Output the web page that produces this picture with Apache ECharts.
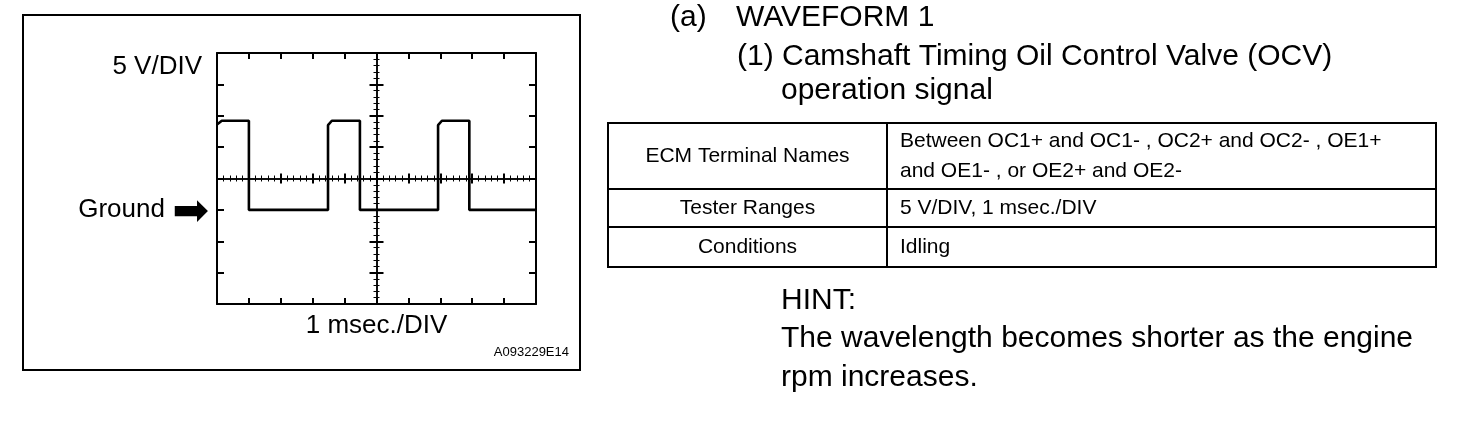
<!DOCTYPE html>
<html>
<head>
<meta http-equiv="Content-Type" content="text/html; charset=utf-8" />
<title>waveform-1</title>
<script type="text/javascript" src="https://cdn.jsdelivr.net/npm/echarts@6/dist/echarts.min.js"></script>
<style>
  html, body { margin: 0; padding: 0; background: #fff; }
  #main { width: 1472px; height: 442px; }
</style>
</head>
<body>
<div id="main"></div>
<script type="text/javascript">
// waveform: time in msec, voltage in V (ground = 0)
var timeMs = [0, 0.15, 1.0, 1.0, 3.48, 3.48, 3.6, 4.48, 4.48, 6.93, 6.93, 7.05, 7.91, 7.91, 10];
var volts  = [13.6, 14.2, 14.2, 0, 0, 13.5, 14.2, 14.2, 0, 0, 13.5, 14.2, 14.2, 0, 0];

var headingLines = ['WAVEFORM 1', '(1) Camshaft Timing Oil Control Valve (OCV)', 'operation signal'];
var tableLabels = ['ECM Terminal Names', 'Tester Ranges', 'Conditions'];
var tableValues = [
    ['Between OC1+ and OC1- , OC2+ and OC2- , OE1+', 'and OE1- , or OE2+ and OE2-'],
    ['5 V/DIV, 1 msec./DIV'],
    ['Idling']
];
var hintLines = ['HINT:', 'The wavelength becomes shorter as the engine', 'rpm increases.'];

var FONT = '"Liberation Sans", Arial, sans-serif';
var black = '#000';

var myChart = echarts.init(document.getElementById('main'));

// scope frame + centre graticule are all axes
function xAx(pos, offset, inside, lineW, tickLen, minor) {
    return {
        type: 'value', min: 0, max: 10, interval: 1,
        position: pos, offset: offset,
        axisLine: { show: true, onZero: false, lineStyle: { color: black, width: lineW } },
        axisTick: { show: true, inside: inside, length: tickLen, lineStyle: { color: black, width: 2 } },
        minorTick: { show: minor, splitNumber: 5, length: 3, lineStyle: { color: black, width: 1 } },
        axisLabel: { show: false },
        splitLine: { show: false }
    };
}
function yAx(pos, offset, inside, lineW, tickLen, minor) {
    return {
        type: 'value', min: -15, max: 25, interval: 5,
        position: pos, offset: offset,
        axisLine: { show: true, onZero: false, lineStyle: { color: black, width: lineW } },
        axisTick: { show: true, inside: inside, length: tickLen, lineStyle: { color: black, width: 2 } },
        minorTick: { show: minor, splitNumber: 5, length: 3, lineStyle: { color: black, width: 1 } },
        axisLabel: { show: false },
        splitLine: { show: false }
    };
}

var xAxes = [
    xAx('bottom', 0, true, 2, 6, false),
    xAx('top', 0, true, 2, 6, false),
    xAx('bottom', -125.5, true, 1.5, 5, true),   // centre line, upper ticks
    xAx('bottom', -125.5, false, 1.5, 5, true)   // centre line, lower ticks
];
xAxes[0].name = '1 msec./DIV';
xAxes[0].nameLocation = 'middle';
xAxes[0].nameGap = 9;
xAxes[0].nameTextStyle = { color: black, fontSize: 26, fontFamily: FONT, verticalAlign: 'top' };

var yAxes = [
    yAx('left', 0, true, 2, 7, false),
    yAx('right', 0, true, 2, 7, false),
    yAx('left', -159.5, true, 1.5, 7, true),
    yAx('left', -159.5, false, 1.5, 7, true)
];
yAxes[0].axisLabel = {
    show: true, margin: 8, color: black, fontSize: 26, fontFamily: FONT,
    formatter: function (v) { return v === 0 ? 'Ground {arrow|\u27A1}' : ''; },
    rich: { arrow: { fontSize: 44, fontFamily: 'DejaVu Sans', color: black, padding: [7, 0, 0, 0] } }
};

var graphics = [
    { type: 'rect', shape: { x: 23, y: 15, width: 557, height: 355 },
      style: { fill: 'none', stroke: black, lineWidth: 2 } },
    { type: 'text', style: { text: '5 V/DIV', x: 202, y: 67, font: '26px ' + FONT, fill: black,
      textAlign: 'right', textVerticalAlign: 'middle' } },
    { type: 'text', style: { text: 'A093229E14', x: 569, y: 352, font: '13px ' + FONT, fill: black,
      textAlign: 'right', textVerticalAlign: 'middle' } },
    { type: 'text', style: { text: '(a)', x: 670, y: 18, font: '30px ' + FONT, fill: black,
      textAlign: 'left', textVerticalAlign: 'middle' } }
];

var headX = [736, 737, 781];
var headY = [18, 57, 91];
headingLines.forEach(function (t, i) {
    graphics.push({ type: 'text', style: { text: t, x: headX[i], y: headY[i], font: '30px ' + FONT,
        fill: black, textAlign: 'left', textVerticalAlign: 'middle' } });
});

// table
var tLeft = 608, tRight = 1436, tMid = 887;
var rowEdges = [123, 189, 227, 267];
graphics.push({ type: 'rect', shape: { x: tLeft, y: rowEdges[0], width: tRight - tLeft, height: rowEdges[3] - rowEdges[0] },
    style: { fill: 'none', stroke: black, lineWidth: 2 } });
graphics.push({ type: 'line', shape: { x1: tMid, y1: rowEdges[0], x2: tMid, y2: rowEdges[3] },
    style: { stroke: black, lineWidth: 2 } });
for (var r = 1; r < 3; r++) {
    graphics.push({ type: 'line', shape: { x1: tLeft, y1: rowEdges[r], x2: tRight, y2: rowEdges[r] },
        style: { stroke: black, lineWidth: 2 } });
}
tableLabels.forEach(function (t, i) {
    var cy = (rowEdges[i] + rowEdges[i + 1]) / 2;
    graphics.push({ type: 'text', style: { text: t, x: (tLeft + tMid) / 2, y: cy, font: '21px ' + FONT,
        fill: black, textAlign: 'center', textVerticalAlign: 'middle' } });
    var lines = tableValues[i];
    lines.forEach(function (line, j) {
        var ly = cy + (j - (lines.length - 1) / 2) * 30;
        graphics.push({ type: 'text', style: { text: line, x: tMid + 13, y: ly, font: '21px ' + FONT,
            fill: black, textAlign: 'left', textVerticalAlign: 'middle' } });
    });
});

var hintY = [301, 339, 378];
hintLines.forEach(function (t, i) {
    graphics.push({ type: 'text', style: { text: t, x: 781, y: hintY[i], font: '30px ' + FONT,
        fill: black, textAlign: 'left', textVerticalAlign: 'middle' } });
});

var option = {
    backgroundColor: '#fff',
    animation: false,
    grid: { left: 217, top: 53, width: 319, height: 251 },
    xAxis: xAxes,
    yAxis: yAxes,
    series: [{
        type: 'line',
        xAxisIndex: 0,
        yAxisIndex: 0,
        showSymbol: false,
        silent: true,
        lineStyle: { color: black, width: 2.6 },
        data: timeMs.map(function (t, i) { return [t, volts[i]]; })
    }],
    graphic: graphics
};
myChart.setOption(option);
</script>
</body>
</html>
